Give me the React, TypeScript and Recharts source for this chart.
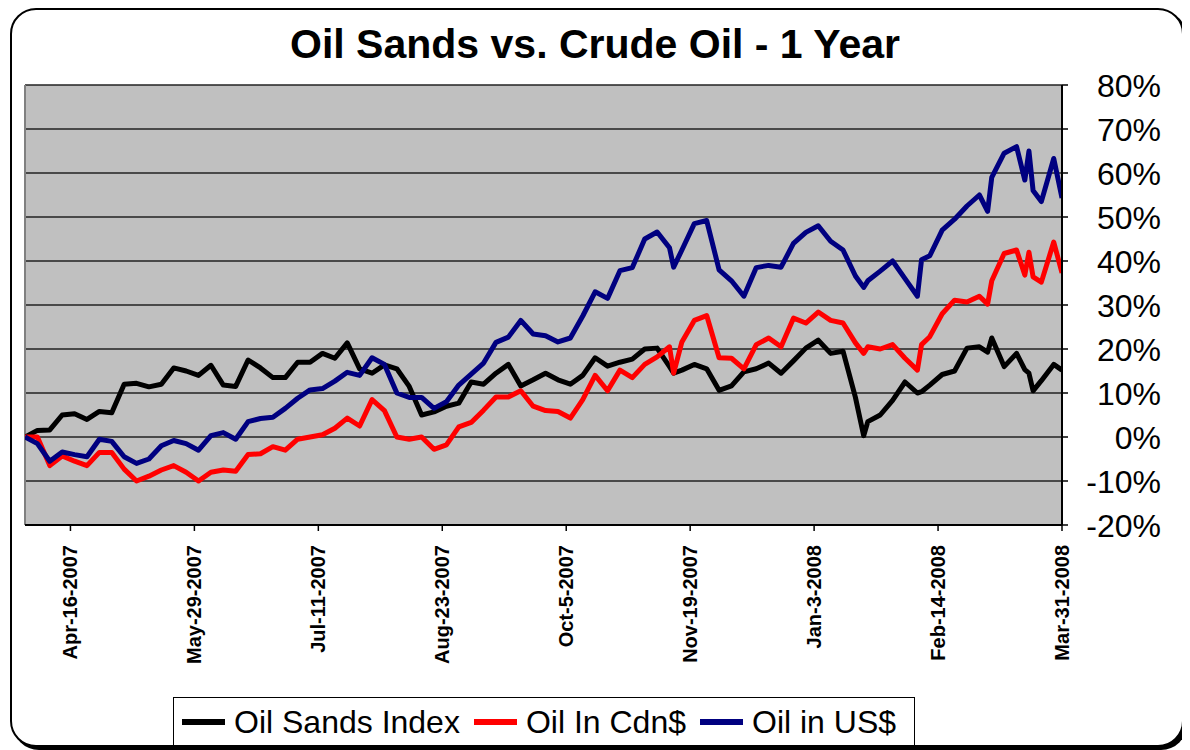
import React from "react";
import { LineChart, Line, XAxis, YAxis, CartesianGrid, ReferenceLine } from "recharts";

// trading-day index (0 = first day, 251 = Mar-31-2008)
const dayIndex = [
  0, 3, 6, 9, 12, 15, 18, 21, 24, 27, 30, 33, 36, 39, 42, 45, 48, 51, 54, 57,
  60, 63, 66, 69, 72, 75, 78, 81, 84, 87, 90, 93, 96, 99, 102, 105, 108, 111, 114, 117,
  120, 123, 126, 129, 132, 135, 138, 141, 144, 147, 150, 153, 156, 157, 159, 162, 165, 168, 171, 174,
  177, 180, 183, 186, 189, 192, 195, 198, 201, 203, 204, 207, 210, 213, 216, 217, 219, 222, 225, 228,
  231, 233, 234, 237, 240, 242, 243, 244, 246, 249, 251,
];

const oilSands = [
  0, 1.5, 1.6, 5, 5.3, 4, 5.8, 5.5, 12, 12.2, 11.4, 12, 15.7, 15, 14, 16.3, 11.8, 11.5, 17.5, 15.7,
  13.5, 13.5, 17, 17, 19, 17.9, 21.4, 15.5, 14.5, 16.4, 15.5, 11.5, 5, 5.7, 7, 7.7, 12.5, 12, 14.5, 16.5,
  11.6, 13, 14.5, 13, 12, 14, 18, 16.1, 17, 17.7, 20, 20.2, 16, 14.5, 15.2, 16.5, 15.5, 10.6, 11.6, 14.8,
  15.5, 16.8, 14.5, 17.3, 20.2, 22, 19, 19.5, 9, 0.3, 3.5, 5, 8.3, 12.5, 10, 10.3, 11.8, 14.2, 15, 20.2,
  20.5, 19.3, 22.5, 16, 19, 15.3, 14.5, 10.5, 12.8, 16.5, 15.2,
];

const oilCdn = [
  0, 0, -6.5, -4.3, -5.5, -6.5, -3.5, -3.5, -7.3, -10, -8.9, -7.5, -6.5, -8, -10, -8, -7.5, -7.8, -4, -3.8,
  -2.2, -3, -0.5, 0, 0.5, 2, 4.3, 2.5, 8.5, 6, 0, -0.5, 0, -2.8, -1.8, 2.3, 3.3, 6.1, 9.1, 9.1,
  10.5, 7, 6, 5.8, 4.3, 8.5, 14, 10.5, 15.2, 13.5, 16.5, 18.2, 20.5, 14.5, 21.6, 26.5, 27.6, 18, 17.9, 15.5,
  21, 22.5, 20.5, 27, 25.9, 28.4, 26.5, 25.9, 21.4, 19, 20.5, 20, 21, 17.9, 15.2, 21, 22.8, 28, 31.1, 30.7,
  32, 30.2, 35.5, 41.7, 42.5, 36.8, 42, 36.4, 35.2, 44.3, 37.3,
];

const oilUS = [
  0, -1.5, -5.5, -3.4, -4, -4.5, -0.5, -1, -4.5, -6, -5, -2, -0.8, -1.5, -3, 0.3, 1, -0.5, 3.5, 4.2,
  4.5, 6.5, 8.8, 10.7, 11, 12.7, 14.7, 14, 18, 16.5, 10, 9, 9, 6.5, 8, 11.8, 14.3, 16.8, 21.5, 22.7,
  26.5, 23.4, 23, 21.6, 22.5, 27.5, 33, 31.5, 37.8, 38.5, 45, 46.6, 43, 38.6, 42.5, 48.5, 49.2, 38, 35.5, 32,
  38.5, 39, 38.6, 44, 46.5, 48, 44.5, 42.5, 36.6, 34, 35.5, 37.7, 40, 36, 32, 40.3, 41.2, 47, 49.5, 52.5,
  55, 51.3, 59, 64.5, 66, 58.4, 65, 56, 53.5, 63.3, 54.3,
];

const tickDays = [11, 41, 71, 101, 131, 161, 191, 221, 251];
const tickLabels = [
  "Apr-16-2007", "May-29-2007", "Jul-11-2007", "Aug-23-2007", "Oct-5-2007",
  "Nov-19-2007", "Jan-3-2008", "Feb-14-2008", "Mar-31-2008",
];
const yTicks = [-20, -10, 0, 10, 20, 30, 40, 50, 60, 70, 80];

const seriesNames = ["Oil Sands Index", "Oil In Cdn$", "Oil in US$"];
const seriesColors = ["#000000", "#FF0000", "#000080"];

const chartData = dayIndex.map((d, i) => ({
  day: d,
  sands: oilSands[i],
  cdn: oilCdn[i],
  us: oilUS[i],
}));

const FONT = "'Liberation Sans', Arial, Helvetica, sans-serif";

const XTick = (props: any) => {
  const { x, y, payload } = props;
  const idx = tickDays.indexOf(payload.value);
  const label = idx >= 0 ? tickLabels[idx] : "";
  const tx = x + 7;
  const ty = y + 12;
  return (
    <text
      x={tx}
      y={ty}
      transform={`rotate(-90, ${tx}, ${ty})`}
      textAnchor="end"
      fontFamily={FONT}
      fontWeight="bold"
      fontSize={20}
      fill="#000"
    >
      {label}
    </text>
  );
};

const YTick = (props: any) => {
  const { x, y, payload } = props;
  return (
    <text
      x={x + 91}
      y={y}
      dy="0.36em"
      textAnchor="end"
      fontFamily={FONT}
      fontSize={32}
      fill="#000"
    >
      {`${payload.value}%`}
    </text>
  );
};

export default function App() {
  return (
    <div style={{ position: "relative", width: 1182, height: 742, fontFamily: FONT }}>
      <div
        style={{
          position: "absolute",
          left: 2,
          top: 0,
          width: 1174,
          height: 739,
          boxSizing: "border-box",
          border: "2px solid #000",
          borderRadius: 26,
          boxShadow: "3px 3px 0 #000",
          background: "#fff",
        }}
      />
      <div
        style={{
          position: "absolute",
          left: 0,
          top: 16,
          width: 1174,
          textAlign: "center",
          fontSize: 41,
          lineHeight: "41px",
          fontWeight: "bold",
          color: "#000",
        }}
      >
        Oil Sands vs. Crude Oil - 1 Year
      </div>
      <div style={{ position: "absolute", left: 0, top: 0 }}>
        <LineChart
          width={1174}
          height={700}
          data={chartData}
          margin={{ top: 77, left: 17, right: 10, bottom: 33 }}
        >
          <CartesianGrid
            horizontal={true}
            vertical={false}
            fill="#C0C0C0"
            stroke="#222"
            strokeWidth={1.5}
            syncWithTicks
          />
          <ReferenceLine x={0} stroke="#808080" strokeWidth={2} ifOverflow="visible" />
          <XAxis
            dataKey="day"
            type="number"
            domain={[0, 251]}
            ticks={tickDays}
            interval={0}
            height={150}
            tick={<XTick />}
            tickSize={6}
            tickLine={{ stroke: "#000", strokeWidth: 1.5 }}
            axisLine={{ stroke: "#000", strokeWidth: 2 }}
            allowDataOverflow
          />
          <YAxis
            orientation="right"
            type="number"
            domain={[-20, 80]}
            ticks={yTicks}
            interval={0}
            width={110}
            tick={<YTick />}
            tickSize={6}
            tickLine={{ stroke: "#000", strokeWidth: 1.5 }}
            axisLine={{ stroke: "#000", strokeWidth: 2 }}
          />
          <Line
            type="linear"
            dataKey="sands"
            name={seriesNames[0]}
            stroke={seriesColors[0]}
            strokeWidth={5}
            strokeLinejoin="round"
            dot={false}
            isAnimationActive={false}
          />
          <Line
            type="linear"
            dataKey="cdn"
            name={seriesNames[1]}
            stroke={seriesColors[1]}
            strokeWidth={5}
            strokeLinejoin="round"
            dot={false}
            isAnimationActive={false}
          />
          <Line
            type="linear"
            dataKey="us"
            name={seriesNames[2]}
            stroke={seriesColors[2]}
            strokeWidth={5}
            strokeLinejoin="round"
            dot={false}
            isAnimationActive={false}
          />
        </LineChart>
      </div>
      <div
        style={{
          position: "absolute",
          left: 165,
          top: 689,
          width: 742,
          height: 49,
          boxSizing: "border-box",
          border: "1px solid #000",
          background: "#fff",
          display: "flex",
          alignItems: "center",
          paddingLeft: 8,
        }}
      >
        {seriesNames.map((n, i) => (
          <div key={n} style={{ display: "flex", alignItems: "center", marginRight: 14 }}>
            <div style={{ width: 43, height: 6, background: seriesColors[i], marginRight: 9 }} />
            <span style={{ fontSize: 32, lineHeight: "36px", color: "#000" }}>{n}</span>
          </div>
        ))}
      </div>
    </div>
  );
}
